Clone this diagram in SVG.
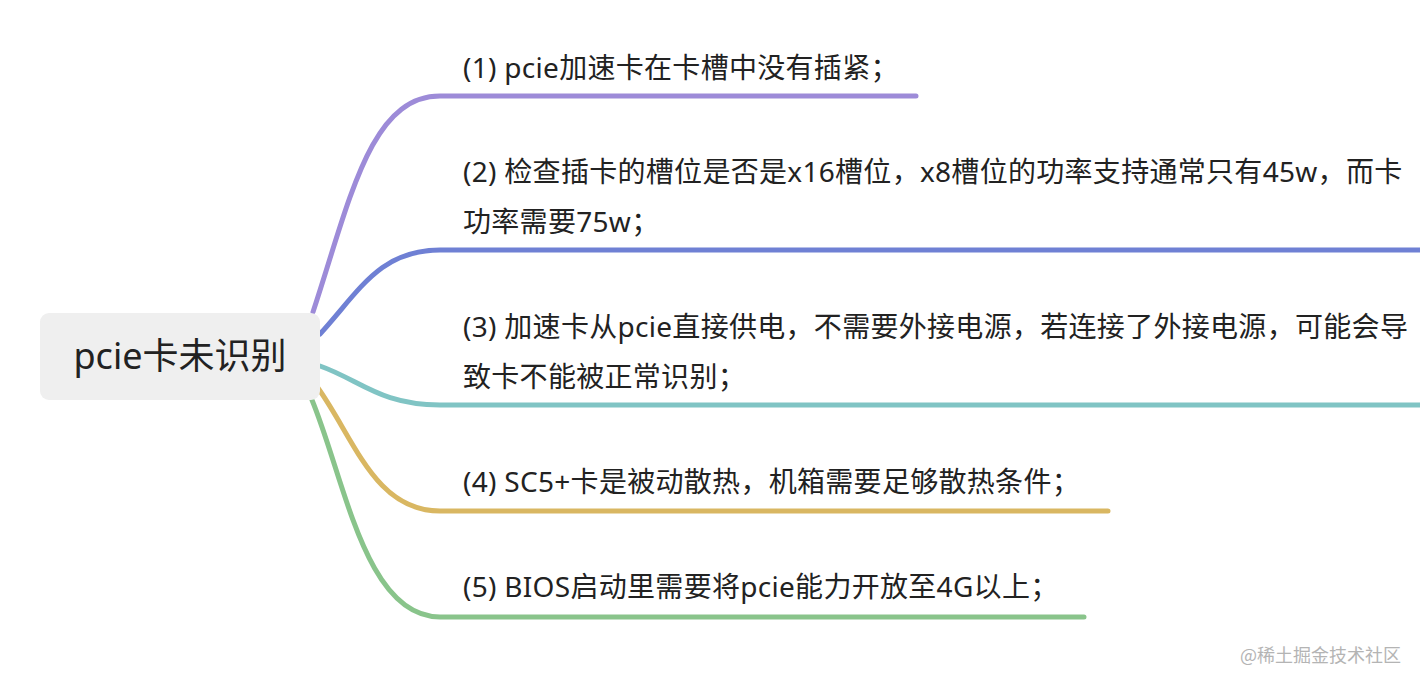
<svg xmlns="http://www.w3.org/2000/svg" width="1420" height="686" viewBox="0 0 1420 686">
  <style>
    .edge { fill: none; stroke-width: 5; stroke-linecap: round; }
    .t { font-family: "Noto Sans", "Noto Sans CJK SC", sans-serif; font-size: 28px; letter-spacing: 0.3px; fill: #222222; }
    .root { font-family: "Noto Sans", "Noto Sans CJK SC", sans-serif; font-size: 36px; fill: #222222; }
    .wm { font-family: "Noto Sans CJK SC", sans-serif; font-size: 18px; fill: #b4b4b4; }
  </style>
  <rect width="1420" height="686" fill="#ffffff"/>
  <g id="connectors">
    <path class="edge" stroke="#9d8bd8" d="M313,312 C350,200 370,96 440,96 L916,96"/>
    <path class="edge" stroke="#6f80d4" d="M320,334 C360,290 380,250 440,250 L1424,250"/>
    <path class="edge" stroke="#80c4c4" d="M320,366 C360,380 380,405 440,405 L1424,405"/>
    <path class="edge" stroke="#d9b762" d="M318,388 C355,440 375,511 440,511 L1108,511"/>
    <path class="edge" stroke="#89c48b" d="M312,400 C345,480 365,617 440,617 L1084,617"/>
  </g>
  <g id="root">
    <rect x="40" y="313" width="280" height="87" rx="9" fill="#efefef"/>
    <text class="root" x="180" y="369" text-anchor="middle">pcie卡未识别</text>
  </g>
  <g id="n1">
    <text class="t" x="463" y="78">(1) pcie加速卡在卡槽中没有插紧；</text>
  </g>
  <g id="n2">
    <text class="t" x="463" y="182">(2) 检查插卡的槽位是否是x16槽位，x8槽位的功率支持通常只有45w，而卡</text>
    <text class="t" x="463" y="232">功率需要75w；</text>
  </g>
  <g id="n3">
    <text class="t" x="463" y="337">(3) 加速卡从pcie直接供电，不需要外接电源，若连接了外接电源，可能会导</text>
    <text class="t" x="463" y="387">致卡不能被正常识别；</text>
  </g>
  <g id="n4">
    <text class="t" x="463" y="492">(4) SC5+卡是被动散热，机箱需要足够散热条件；</text>
  </g>
  <g id="n5">
    <text class="t" x="463" y="597">(5) BIOS启动里需要将pcie能力开放至4G以上；</text>
  </g>
  <g id="watermark">
    <text class="wm" x="1240" y="662">@稀土掘金技术社区</text>
  </g>
</svg>
